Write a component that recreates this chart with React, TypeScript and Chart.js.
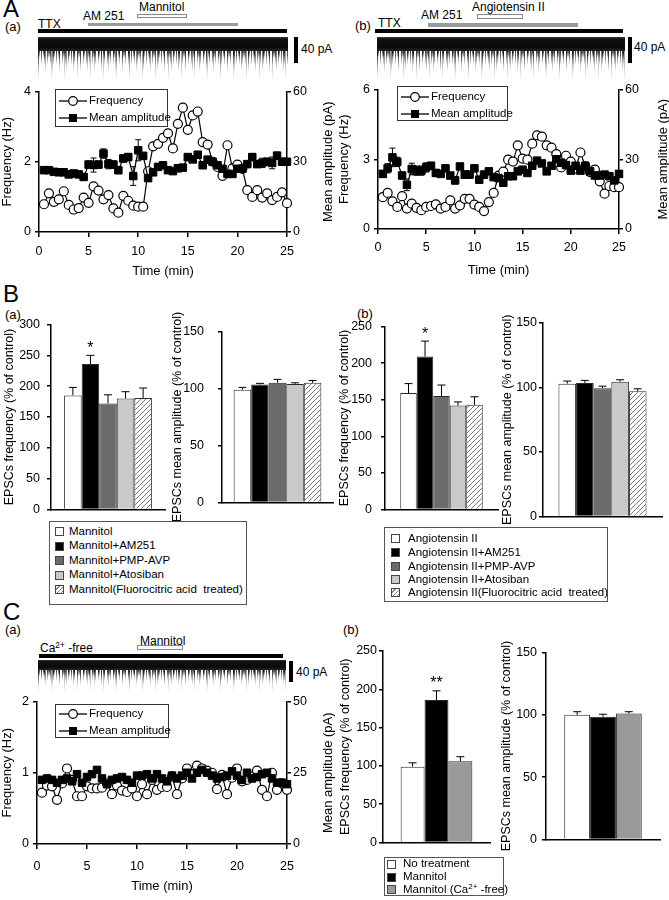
import React, { useEffect, useRef } from 'react';
import { Chart, registerables } from 'chart.js';
Chart.register(...registerables);

const FONT = '"Liberation Sans", Arial, Helvetica, sans-serif';
Chart.defaults.font.family = FONT;

// ---------------- DATA ----------------
const timeMin = [0.5, 1, 1.5, 2, 2.5, 3, 3.5, 4, 4.5, 5, 5.5, 6, 6.5, 7, 7.5, 8, 8.5, 9, 9.5, 10, 10.5, 11, 11.5, 12, 12.5, 13, 13.5, 14, 14.5, 15, 15.5, 16, 16.5, 17, 17.5, 18, 18.5, 19, 19.5, 20, 20.5, 21, 21.5, 22, 22.5, 23, 23.5, 24, 24.5, 25];
const xTicks = [0, 5, 10, 15, 20, 25];

// A(a) Mannitol
const aaFreq = [0.79, 1.10, 0.86, 0.93, 1.16, 0.77, 0.64, 0.68, 0.98, 0.83, 1.30, 1.18, 0.93, 1.05, 0.67, 0.55, 1.03, 0.89, 0.75, 0.72, 0.72, 1.73, 2.44, 2.51, 2.68, 2.81, 2.38, 3.08, 3.54, 2.91, 3.32, 3.43, 2.56, 2.49, 2.0, 1.85, 1.60, 2.47, 1.81, 1.92, 1.80, 1.19, 1.00, 1.19, 0.98, 1.10, 0.91, 1.00, 1.13, 0.82];
const aaAmp = [26.4, 26.4, 25.7, 25.5, 25.5, 24.6, 25, 24.6, 23.5, 28.8, 28.6, 28.8, 33.5, 29, 28.8, 26.4, 31.4, 32, 23.9, 34.9, 32.5, 23, 25.5, 27.8, 28.5, 26.4, 26, 27.2, 27.5, 32, 31, 33, 28.5, 30.9, 30, 28.5, 27, 24.8, 24.8, 27, 27, 29, 32, 29, 29.5, 30, 29.5, 32.6, 30, 30];
const aaAmpErr = [1, 1, 0.8, 0.8, 1, 1, 0.8, 1, 1, 1.5, 3, 1.5, 2, 2, 1.5, 1.5, 1.5, 1.5, 4, 4.5, 1.5, 1, 1, 1, 0.8, 0.8, 0.8, 0.8, 1, 1, 0.8, 1, 0.8, 1, 1, 1, 1, 1, 1, 1.5, 1.5, 1.5, 1.5, 1.5, 2, 1.5, 2.5, 1.5, 1.5, 1];

// A(b) Angiotensin II
const abFreq = [1.37, 1.55, 1.19, 0.95, 1.41, 0.88, 1.09, 0.91, 0.81, 0.95, 0.99, 1.06, 0.88, 0.95, 1.23, 0.88, 1.02, 1.30, 1.30, 1.05, 0.95, 0.77, 1.16, 1.55, 2.3, 2.47, 2.98, 2.9, 3.6, 3.03, 2.98, 3.67, 4.03, 3.97, 3.6, 3.5, 3.22, 2.65, 3.15, 2.9, 2.6, 3.29, 2.7, 2.45, 2.55, 2.05, 1.52, 1.85, 1.8, 1.8];
const abAmp = [23.7, 26.1, 30.8, 28.9, 23, 19, 25.8, 25.1, 25.1, 26.5, 27.2, 24.1, 23.7, 26.1, 23, 20.9, 26.9, 23.4, 23.4, 26.1, 21.2, 23.4, 24.8, 22.3, 21.9, 19.9, 22.7, 22.7, 24.8, 25.5, 24.1, 27.2, 29.4, 28.2, 24.8, 27.2, 30, 28.5, 27.5, 25.1, 27.2, 25.1, 27.2, 24.8, 23, 23, 23.4, 22.7, 20.9, 23.7];
const abAmpErr = [1.5, 2, 4, 2, 1.5, 2.5, 2.5, 2, 2, 2, 1.5, 1.5, 1, 1, 1, 1.5, 1, 1.5, 1.5, 1, 1.5, 1.5, 1, 1, 1, 1, 1, 1, 1, 1, 1, 1, 1, 1, 1, 1, 1, 1, 1, 1, 1, 1, 1, 1, 1, 1, 1, 1, 1, 1];

// C(a) Ca2+-free
const caFreq = [0.72, 0.82, 0.81, 0.62, 0.85, 1.06, 0.90, 0.67, 0.67, 0.81, 0.78, 0.78, 0.79, 0.85, 0.70, 0.82, 0.75, 0.73, 0.78, 0.67, 0.84, 0.70, 0.90, 0.76, 0.80, 0.80, 0.95, 0.70, 0.92, 1.06, 0.98, 1.10, 1.06, 1.03, 1.00, 0.77, 0.97, 0.70, 0.93, 1.06, 0.88, 0.90, 0.95, 1.03, 0.76, 0.67, 1.00, 0.76, 0.85, 0.76];
const caAmp = [22.5, 23, 22.5, 21.5, 22.5, 23, 22, 24.5, 21.5, 23.5, 24.5, 26, 23, 21, 22.5, 23, 23.5, 22.5, 21.5, 24, 24, 24.5, 23, 24.5, 23, 22, 24, 23, 24, 25, 23, 25, 26, 25, 24, 23, 23.5, 24, 25.5, 24, 22.5, 25, 23, 23.5, 24.5, 25, 23, 21.5, 21.5, 21];
const caAmpErr = [1, 1, 1, 1, 1, 1, 1, 1, 1, 1, 1, 1, 1, 1, 1, 1, 1, 1, 1, 1, 1, 1, 1, 1, 1, 1, 1, 1, 1, 1, 1, 1, 1, 1, 1, 1, 1, 1, 1, 1, 1, 1, 1, 1, 1, 1, 1, 1, 1, 1];

// B(a) Mannitol groups
const manGroups = ['Mannitol', 'Mannitol+AM251', 'Mannitol+PMP-AVP', 'Mannitol+Atosiban', 'Mannitol(Fluorocitric acid  treated)'];
const manFreq = [185, 236, 172, 180, 181];
const manFreqErr = [13, 14, 14, 11, 16];
const manFreqSig = ['', '*', '', '', ''];
const manAmp = [99, 103.5, 105, 104, 105];
const manAmpErr = [2, 1, 3, 1, 2];

// B(b) Angiotensin II groups
const angGroups = ['Angiotensin II', 'Angiotensin II+AM251', 'Angiotensin II+PMP-AVP', 'Angiotensin II+Atosiban', 'Angiotensin II(Fluorocitric acid  treated)'];
const angFreq = [159, 209, 155, 142, 143];
const angFreqErr = [13, 21, 15, 5, 11];
const angFreqSig = ['', '*', '', '', ''];
const angAmp = [103, 103.5, 99.5, 104.5, 97];
const angAmpErr = [2, 2, 1.5, 1.5, 2];

// C(b) groups
const caGroups = ['No treatment', 'Mannitol', 'Mannitol (Ca2+ -free)'];
const caBarFreq = [99, 186, 106];
const caBarFreqErr = [5, 12, 6];
const caBarFreqSig = ['', '**', ''];
const caBarAmp = [100, 98.5, 101];
const caBarAmpErr = [2.5, 2, 1.5];

// ---------------- STYLES ----------------
const fiveFills = ['#ffffff', '#000000', '#6b6b6b', '#c9c9c9', 'hatch'];
const threeFills = ['#ffffff', '#000000', '#9a9a9a'];

function makeHatch(): any {
  const c = document.createElement('canvas');
  c.width = 5; c.height = 5;
  const g = c.getContext('2d')!;
  g.fillStyle = '#fff';
  g.fillRect(0, 0, 5, 5);
  g.strokeStyle = '#777';
  g.lineWidth = 1;
  g.beginPath();
  g.moveTo(0, 5); g.lineTo(5, 0);
  g.moveTo(-2.5, 2.5); g.lineTo(2.5, -2.5);
  g.moveTo(2.5, 7.5); g.lineTo(7.5, 2.5);
  g.stroke();
  return g.createPattern(c, 'repeat');
}

const errorBarPlugin = {
  id: 'errorBars',
  beforeDatasetsDraw(chart: any) {
    const ctx = chart.ctx;
    chart.data.datasets.forEach((ds: any, i: number) => {
      if (!ds.errors) return;
      const meta = chart.getDatasetMeta(i);
      const yScale = chart.scales[meta.yAxisID];
      ctx.save();
      ctx.strokeStyle = '#000';
      ctx.lineWidth = 1;
      meta.data.forEach((el: any, j: number) => {
        const e = ds.errors[j];
        const raw = ds.data[j];
        const v = typeof raw === 'number' ? raw : raw.y;
        const x = el.x;
        const yTop = yScale.getPixelForValue(v + e);
        const yBot = ds.twoSided ? yScale.getPixelForValue(v - e) : el.y;
        const cap = ds.capWidth ?? 4;
        ctx.beginPath();
        ctx.moveTo(x, yTop); ctx.lineTo(x, yBot);
        ctx.moveTo(x - cap, yTop); ctx.lineTo(x + cap, yTop);
        if (ds.twoSided) { ctx.moveTo(x - cap, yBot); ctx.lineTo(x + cap, yBot); }
        ctx.stroke();
        if (ds.marks && ds.marks[j]) {
          ctx.fillStyle = '#000';
          ctx.font = `16px ${FONT}`;
          ctx.textAlign = 'center';
          ctx.textBaseline = 'bottom';
          ctx.fillText(ds.marks[j], x, yTop + 1);
        }
      });
      ctx.restore();
    });
  },
};

const sideTitlePlugin = {
  id: 'sideTitle',
  afterDraw(chart: any, _args: any, opts: any) {
    if (!opts || !opts.text) return;
    const { ctx, chartArea } = chart;
    ctx.save();
    ctx.translate(opts.x, (chartArea.top + chartArea.bottom) / 2);
    ctx.rotate(-Math.PI / 2);
    ctx.font = `13px ${FONT}`;
    ctx.fillStyle = '#000';
    ctx.textAlign = 'center';
    ctx.textBaseline = 'middle';
    ctx.fillText(opts.text, 0, 0);
    ctx.restore();
  },
};

const tickFont = { family: FONT, size: 12.5 };
const titleFont = { family: FONT, size: 13 };
const axisBorder = { display: true, color: '#000', width: 1.5 };
const tickGrid = (len: number) => ({ display: true, drawOnChartArea: false, drawTicks: true, tickLength: len, color: '#000', lineWidth: 1.5 });

type LineP = {
  freq: number[]; amp: number[]; ampErr: number[];
  yMax: number; yStep: number; y2Max: number; y2Step: number;
  padT: number; yW: number; y2W: number; xH: number; xTickPad: number;
  yTitlePad: number; xTitlePad: number; rightTitleX: number;
};

function lineConfig(p: LineP): any {
  const freqPts = timeMin.map((t, i) => ({ x: t, y: p.freq[i] }));
  const ampPts = timeMin.map((t, i) => ({ x: t, y: p.amp[i] }));
  return {
    type: 'line',
    data: {
      datasets: [
        {
          label: 'Mean amplitude', data: ampPts, yAxisID: 'y2', borderColor: '#000', borderWidth: 1.2,
          pointStyle: 'rect', pointRadius: 5.3, pointBackgroundColor: '#000', pointBorderColor: '#000', pointBorderWidth: 1,
          errors: p.ampErr, twoSided: true, capWidth: 3, clip: false,
        },
        {
          label: 'Frequency', data: freqPts, yAxisID: 'y', borderColor: '#000', borderWidth: 1.2,
          pointStyle: 'circle', pointRadius: 4.5, pointBackgroundColor: '#fff', pointBorderColor: '#000', pointBorderWidth: 1.2,
          clip: false,
        },
      ],
    },
    options: {
      responsive: false,
      animation: false,
      layout: { padding: { top: p.padT, left: 0, right: 0, bottom: 0 } },
      plugins: {
        legend: { display: false },
        tooltip: { enabled: false },
        sideTitle: { text: 'Mean amplitude (pA)', x: p.rightTitleX },
      },
      scales: {
        x: {
          type: 'linear', min: 0, max: 25,
          afterBuildTicks: (s: any) => { s.ticks = xTicks.map((v) => ({ value: v })); },
          ticks: { color: '#000', font: tickFont, padding: p.xTickPad, maxRotation: 0 },
          grid: tickGrid(5), border: axisBorder,
          title: { display: true, text: 'Time (min)', color: '#000', font: titleFont, padding: { top: 0, bottom: p.xTitlePad } },
          afterFit: (s: any) => { s.height = p.xH; },
        },
        y: {
          position: 'left', min: 0, max: p.yMax,
          ticks: { stepSize: p.yStep, color: '#000', font: tickFont, padding: 4 },
          grid: tickGrid(4), border: axisBorder,
          title: { display: true, text: 'Frequency (Hz)', color: '#000', font: titleFont, padding: { top: p.yTitlePad, bottom: 0 } },
          afterFit: (s: any) => { s.width = p.yW; },
        },
        y2: {
          position: 'right', min: 0, max: p.y2Max,
          ticks: { stepSize: p.y2Step, color: '#000', font: tickFont, padding: 2 },
          grid: tickGrid(4), border: axisBorder,
          afterFit: (s: any) => { s.width = p.y2W; },
        },
      },
    },
    plugins: [errorBarPlugin, sideTitlePlugin],
  };
}

type BarP = {
  groups: string[]; values: number[]; errs: number[]; marks?: string[]; fills: string[];
  yMax: number; yStep: number; title: string;
  padT: number; padR: number; yW: number; tickPad: number; titlePad: number; catPct: number;
};

function barConfig(p: BarP): any {
  const hatch = makeHatch();
  return {
    type: 'bar',
    data: {
      labels: [''],
      datasets: p.groups.map((g, i) => ({
        label: g,
        data: [p.values[i]],
        backgroundColor: p.fills[i] === 'hatch' ? hatch : p.fills[i],
        borderColor: '#2a2a2a',
        borderWidth: 1,
        errors: [p.errs[i]],
        marks: [p.marks ? p.marks[i] : ''],
        capWidth: 4,
      })),
    },
    options: {
      responsive: false,
      animation: false,
      layout: { padding: { top: p.padT, right: p.padR, left: 0, bottom: 0 } },
      datasets: { bar: { categoryPercentage: p.catPct, barPercentage: 1 } },
      plugins: { legend: { display: false }, tooltip: { enabled: false } },
      scales: {
        x: {
          ticks: { display: false }, grid: { display: false }, border: axisBorder,
          afterFit: (s: any) => { s.height = 3; },
        },
        y: {
          min: 0, max: p.yMax,
          ticks: { stepSize: p.yStep, color: '#000', font: tickFont, padding: p.tickPad },
          grid: tickGrid(4), border: axisBorder,
          title: { display: true, text: p.title, color: '#000', font: { family: FONT, size: 12.5 }, padding: { top: p.titlePad, bottom: 0 } },
          afterFit: (s: any) => { s.width = p.yW; },
        },
      },
    },
    plugins: [errorBarPlugin],
  };
}

function ChartBox({ left, top, width, height, make }: { left: number; top: number; width: number; height: number; make: () => any }) {
  const ref = useRef<HTMLCanvasElement>(null);
  useEffect(() => {
    const chart = new Chart(ref.current!, make());
    return () => chart.destroy();
  }, []);
  return <canvas ref={ref} width={width} height={height} style={{ position: 'absolute', left, top, width, height }} />;
}

function T({ x, y, size = 12, children }: { x: number; y: number; size?: number; children: any }) {
  return (
    <span style={{ position: 'absolute', left: x, top: y - size * 0.5, fontSize: size, lineHeight: 1, whiteSpace: 'pre' }}>
      {children}
    </span>
  );
}

function Box({ x, y, w, h, bg, border }: { x: number; y: number; w: number; h: number; bg: string; border?: string }) {
  return <div style={{ position: 'absolute', left: x, top: y, width: w, height: h, background: bg, border, boxSizing: 'border-box' }} />;
}

// Recording trace: a texture only (dark baseline band with downward spikes)
function Trace({ x, y, w, h }: { x: number; y: number; w: number; h: number }) {
  const fade = 'linear-gradient(to bottom, #000 0%, rgba(0,0,0,0.85) 35%, rgba(0,0,0,0.35) 75%, rgba(0,0,0,0) 100%)';
  const layer = (top: number, height: number, bg: string) => (
    <div
      style={{
        position: 'absolute', left: 0, top, width: w, height, background: bg,
        WebkitMaskImage: fade, maskImage: fade,
      } as any}
    />
  );
  return (
    <div style={{ position: 'absolute', left: x, top: y, width: w, height: h }}>
      {layer(h * 0.2, h * 0.8, 'repeating-linear-gradient(90deg, #9a9a9a 0px, #9a9a9a 1px, rgba(255,255,255,0) 1px, rgba(255,255,255,0) 13px)')}
      {layer(h * 0.2, h * 0.62, 'repeating-linear-gradient(90deg, #666 0px, #666 1px, rgba(255,255,255,0) 1px, rgba(255,255,255,0) 7px)')}
      {layer(h * 0.2, h * 0.45, 'repeating-linear-gradient(90deg, #222 0px, #222 1px, rgba(255,255,255,0) 1px, rgba(255,255,255,0) 3px)')}
      {layer(h * 0.2, h * 0.3, 'repeating-linear-gradient(90deg, #111 0px, #111 2px, rgba(255,255,255,0) 2px, rgba(255,255,255,0) 5px)')}
      <div style={{ position: 'absolute', left: 0, top: 0, width: w, height: h * 0.32, background: 'linear-gradient(to bottom, #3a3a3a 0%, #111 15%, #0a0a0a 70%, #222 100%)' }} />
    </div>
  );
}

function LineLegend({ x, y, w, h, r1, r2 }: { x: number; y: number; w: number; h: number; r1: number; r2: number }) {
  const item = (top: number, marker: any, label: string) => (
    <div style={{ position: 'absolute', left: 2, top: top - 6, height: 12, display: 'flex', alignItems: 'center' }}>
      <svg width="30" height="12" style={{ display: 'block' }}>
        <line x1="1" y1="6" x2="29" y2="6" stroke="#000" strokeWidth="1.3" />
        {marker}
      </svg>
      <span style={{ marginLeft: 1, fontSize: 11.5, lineHeight: 1, whiteSpace: 'nowrap' }}>{label}</span>
    </div>
  );
  return (
    <div style={{ position: 'absolute', left: x, top: y, width: w, height: h, border: '1px solid #333', background: '#fff', boxSizing: 'border-box' }}>
      {item(r1, <circle cx="15" cy="6" r="4.3" fill="#fff" stroke="#000" strokeWidth="1.2" />, 'Frequency')}
      {item(r2, <rect x="11" y="2" width="8" height="8" fill="#000" />, 'Mean amplitude')}
    </div>
  );
}

function swatchBg(f: string) {
  if (f === 'hatch') return 'repeating-linear-gradient(135deg, #fff 0px, #fff 2px, #888 2px, #888 3px)';
  return f;
}

function BarLegend({ x, y, w, h, items, fills, rows, swX, txX }: { x: number; y: number; w: number; h: number; items: any[]; fills: string[]; rows: number[]; swX: number; txX: number }) {
  return (
    <div style={{ position: 'absolute', left: x, top: y, width: w, height: h, border: '1px solid #555', background: '#fff', boxSizing: 'border-box' }}>
      {items.map((it, i) => (
        <React.Fragment key={i}>
          <div style={{ position: 'absolute', left: swX, top: rows[i] - 5, width: 9, height: 9, background: swatchBg(fills[i]), border: '1px solid #444', boxSizing: 'border-box' }} />
          <span style={{ position: 'absolute', left: txX, top: rows[i] - 6.5, fontSize: 11.5, lineHeight: 1, whiteSpace: 'pre' }}>{it}</span>
        </React.Fragment>
      ))}
    </div>
  );
}

const caLabel = (s: string) => {
  const idx = s.indexOf('Ca2+');
  if (idx < 0) return s;
  return (
    <>
      {s.slice(0, idx)}Ca<sup style={{ fontSize: '0.7em', verticalAlign: 'top', position: 'relative', top: -1 }}>2+</sup>
      {s.slice(idx + 4)}
    </>
  );
};

export default function App() {
  return (
    <div style={{ position: 'absolute', left: 0, top: 0, width: 669, height: 900, background: '#fff', fontFamily: FONT, color: '#000', overflow: 'hidden' }}>
      {/* ---------- Panel A ---------- */}
      <T x={3} y={9} size={24}>A</T>
      <T x={5} y={26} size={13}>(a)</T>
      <T x={38} y={24}>TTX</T>
      <T x={83} y={16}>AM 251</T>
      <T x={139} y={7}>Mannitol</T>
      <Box x={137} y={13.5} w={50} h={4.5} bg="#fff" border="1px solid #888" />
      <Box x={88} y={22.5} w={150} h={3.5} bg="#9a9a9a" />
      <Box x={38} y={29} w={249} h={4} bg="#000" />
      <Trace x={38} y={37} w={250} h={43} />
      <Box x={294} y={37} w={4} h={26} bg="#000" />
      <T x={301} y={49}>40 pA</T>
      <ChartBox left={0} top={80} width={345} height={200} make={() => lineConfig({
        freq: aaFreq, amp: aaAmp, ampErr: aaAmpErr, yMax: 4, yStep: 2, y2Max: 60, y2Step: 30,
        padT: 11, yW: 39, y2W: 58, xH: 48, xTickPad: 7, yTitlePad: 0, xTitlePad: 1, rightTitleX: 328,
      })} />
      <LineLegend x={55} y={89} w={113} h={38} r1={11} r2={28} />

      <T x={355} y={25} size={13}>(b)</T>
      <T x={378} y={23}>TTX</T>
      <T x={421} y={15}>AM 251</T>
      <T x={472} y={7}>Angiotensin II</T>
      <Box x={477} y={14} w={46} h={4.5} bg="#fff" border="1px solid #888" />
      <Box x={428} y={23} w={150} h={3.5} bg="#9a9a9a" />
      <Box x={375} y={29} w={248} h={4} bg="#000" />
      <Trace x={377} y={37} w={248} h={43} />
      <Box x={628} y={37} w={4} h={26} bg="#000" />
      <T x={634} y={47}>40 pA</T>
      <ChartBox left={335} top={78} width={334} height={200} make={() => lineConfig({
        freq: abFreq, amp: abAmp, ampErr: abAmpErr, yMax: 6, yStep: 3, y2Max: 60, y2Step: 30,
        padT: 10, yW: 43, y2W: 50, xH: 49, xTickPad: 6, yTitlePad: 2, xTitlePad: 0, rightTitleX: 328,
      })} />
      <LineLegend x={397} y={86} w={111} h={35} r1={10} r2={27} />

      {/* ---------- Panel B ---------- */}
      <T x={3} y={294} size={24}>B</T>
      <T x={5} y={314} size={13}>(a)</T>
      <ChartBox left={0} top={310} width={170} height={214} make={() => barConfig({
        groups: manGroups, values: manFreq, errs: manFreqErr, marks: manFreqSig, fills: fiveFills,
        yMax: 300, yStep: 50, title: 'EPSCs frequency (% of control)',
        padT: 14, padR: 5, yW: 51, tickPad: 7, titlePad: 2.5, catPct: 0.77,
      })} />
      <ChartBox left={170} top={310} width={168} height={214} make={() => barConfig({
        groups: manGroups, values: manAmp, errs: manAmpErr, fills: fiveFills,
        yMax: 150, yStep: 50, title: 'EPSCs mean amplitude (% of control)',
        padT: 14, padR: 5, yW: 52, tickPad: 14, titlePad: 0.5, catPct: 0.79,
      })} />
      <BarLegend x={49} y={521} w={198} h={84} items={manGroups} fills={fiveFills} rows={[10, 24.5, 39, 53.5, 68]} swX={5} txX={19} />

      <T x={357} y={313} size={13}>(b)</T>
      <ChartBox left={335} top={310} width={165} height={216} make={() => barConfig({
        groups: angGroups, values: angFreq, errs: angFreqErr, marks: angFreqSig, fills: fiveFills,
        yMax: 250, yStep: 50, title: 'EPSCs frequency (% of control)',
        padT: 13, padR: 2, yW: 50, tickPad: 9, titlePad: 2.5, catPct: 0.73,
      })} />
      <ChartBox left={500} top={310} width={169} height={216} make={() => barConfig({
        groups: angGroups, values: angAmp, errs: angAmpErr, fills: fiveFills,
        yMax: 150, yStep: 50, title: 'EPSCs mean amplitude (% of control)',
        padT: 13, padR: 7, yW: 43, tickPad: 2, titlePad: 0.5, catPct: 0.74,
      })} />
      <BarLegend x={384} y={527} w={224} h={75} items={angGroups} fills={fiveFills} rows={[11, 25, 39, 52, 65]} swX={6} txX={23} />

      {/* ---------- Panel C ---------- */}
      <T x={3} y={612} size={24}>C</T>
      <T x={5} y={629} size={13}>(a)</T>
      <T x={40} y={648}>{caLabel('Ca2+ -free')}</T>
      <T x={140} y={641}>Mannitol</T>
      <Box x={137} y={645} w={46} h={4.5} bg="#fff" border="1px solid #888" />
      <Box x={39} y={654} w={244} h={4} bg="#000" />
      <Trace x={38} y={660} w={248} h={32} />
      <Box x={289} y={661} w={4} h={21} bg="#000" />
      <T x={296} y={672}>40 pA</T>
      <ChartBox left={0} top={690} width={340} height={210} make={() => lineConfig({
        freq: caFreq, amp: caAmp, ampErr: caAmpErr, yMax: 2, yStep: 1, y2Max: 50, y2Step: 25,
        padT: 11, yW: 37, y2W: 53, xH: 56, xTickPad: 10, yTitlePad: 0, xTitlePad: 6, rightTitleX: 328,
      })} />
      <LineLegend x={55} y={704} w={114} h={34} r1={9} r2={26} />

      <T x={343} y={629} size={13}>(b)</T>
      <ChartBox left={335} top={640} width={160} height={212} make={() => barConfig({
        groups: caGroups, values: caBarFreq, errs: caBarFreqErr, marks: caBarFreqSig, fills: threeFills,
        yMax: 250, yStep: 50, title: 'EPSCs frequency (% of control)',
        padT: 11, padR: 5, yW: 48, tickPad: 2, titlePad: 3.5, catPct: 0.67,
      })} />
      <ChartBox left={495} top={640} width={174} height={212} make={() => barConfig({
        groups: caGroups, values: caBarAmp, errs: caBarAmpErr, fills: threeFills,
        yMax: 150, yStep: 50, title: 'EPSCs mean amplitude (% of control)',
        padT: 12, padR: 9, yW: 51, tickPad: 5, titlePad: 4.5, catPct: 0.68,
      })} />
      <BarLegend x={384} y={857} w={120} h={39} items={caGroups.map(caLabel)} fills={threeFills} rows={[6.5, 19.5, 32]} swX={2} txX={18} />
    </div>
  );
}
